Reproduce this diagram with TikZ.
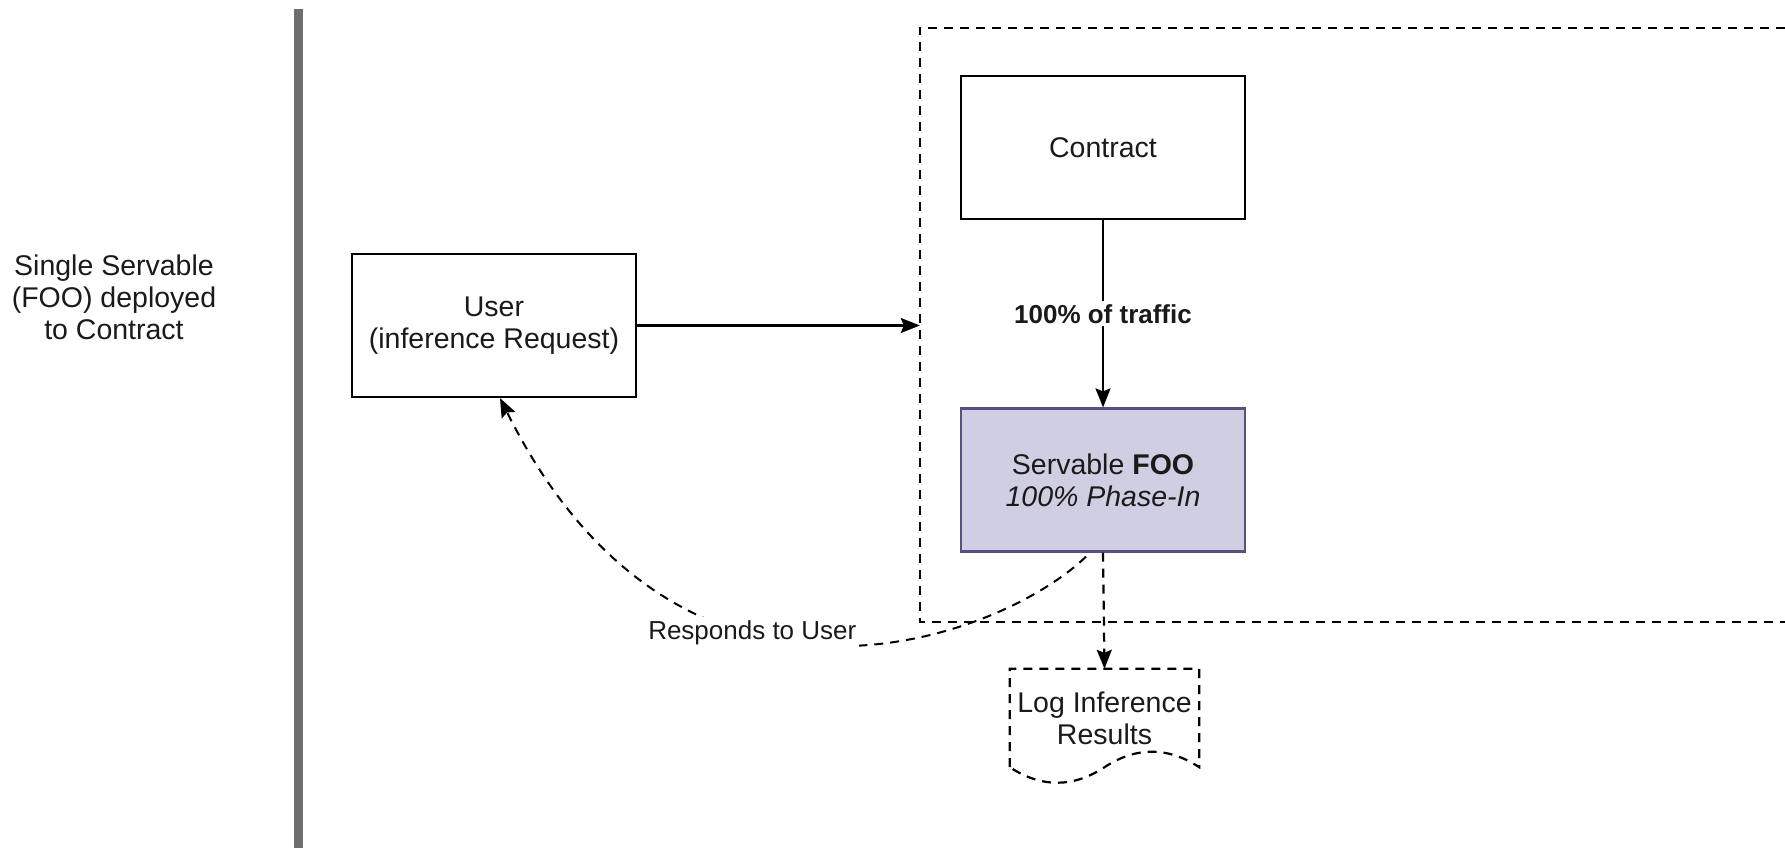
\documentclass[tikz,border=0pt]{standalone}
\usepackage{fontspec}
\setmainfont{Liberation Sans}
\usetikzlibrary{arrows.meta}
\definecolor{txt}{HTML}{1A1A1A}
\definecolor{lav}{HTML}{D0CEE2}
\definecolor{lavb}{HTML}{56517E}
\definecolor{sepc}{HTML}{6E6E6E}
\begin{document}
\begin{tikzpicture}[x=1pt,y=-1pt,
  box/.style={draw=black, line width=2.2pt, minimum width=284pt, minimum height=143pt,
    align=center, font=\fontsize{28.5}{32}\selectfont, text=txt, inner sep=0pt},
  plain/.style={align=center, font=\fontsize{28.5}{32}\selectfont, text=txt, inner sep=0pt},
  dsh/.style={dash pattern=on 9pt off 7pt},
  arr/.style={-{Stealth[length=19pt,width=15pt,inset=3pt]}, line width=2.2pt},
  lbl/.style={font=\fontsize{26}{30}\selectfont, text=txt, fill=white, inner sep=3pt}]
\useasboundingbox (0,0) rectangle (1785,848);
% separator
\draw[sepc, line width=9pt] (298,9) -- (298,848);
\node[plain] (caption) at (114,297) {Single Servable\\(FOO) deployed\\to Contract};
% nodes
\node[box] (user) at (494,325.5) {User\\(inference Request)};
\node[draw=none, minimum width=865pt, minimum height=594pt, inner sep=0pt] (cont) at (1352.5,325) {};
\draw[dsh, line width=2.2pt] (cont.north east) -- (cont.north west) -- (cont.south west) -- (cont.south east);
\node[box] (contract) at (1103,147.5) {Contract};
\node[box, fill=lav, draw=lavb] (serv) at (1103,480) {Servable \textbf{FOO}\\\textit{100\% Phase-In}};
\node[plain, minimum width=189pt, minimum height=98pt] (log) at (1104.5,718) {Log Inference\\Results};
\draw[dsh, line width=2.2pt] (log.south west) -- (log.north west) -- (log.north east) -- (log.south east)
  .. controls +(-31.5,-20.7) and +(31.5,-20.7) .. (log.south)
  .. controls +(-31.5,20.7) and +(31.5,20.7) .. (log.south west);
% connectors
\draw[arr] (user.east) -- (user.east -| cont.west);
\draw[arr] (contract.south) -- node[lbl, font=\fontsize{26}{30}\selectfont\bfseries] {100\% of traffic} (serv.north);
\draw[arr, dsh] (serv.south) -- (log.north);
\draw[arr, dsh, line width=2pt] ([xshift=-17pt,yshift=-4pt]serv.south) .. controls (1000,640) and (680,760) .. ([xshift=6pt]user.south)
  node[pos=0.61, lbl] {Responds to User};
\end{tikzpicture}
\end{document}
